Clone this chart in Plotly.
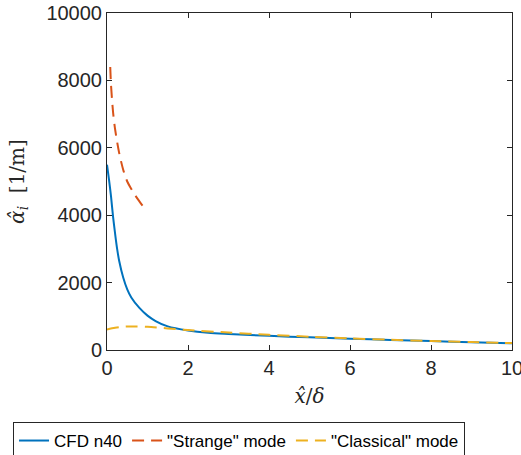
import plotly.graph_objects as go

cfd_x = [0, 0.05, 0.1, 0.15, 0.2, 0.25, 0.3, 0.4, 0.5, 0.6, 0.8, 1.0, 1.2, 1.5, 2.0, 2.5, 3.0, 4.0, 5.0, 6.0, 7.0, 8.0, 9.0, 10.0]
cfd_y = [5500, 5050, 4550, 3950, 3450, 3000, 2650, 2150, 1800, 1560, 1250, 1020, 860, 700, 580, 510, 475, 420, 375, 335, 300, 265, 230, 200]

strange_x = [0.08, 0.1, 0.15, 0.2, 0.3, 0.4, 0.5, 0.6, 0.7, 0.8, 0.9]
strange_y = [8400, 7850, 7050, 6550, 5850, 5350, 5000, 4780, 4580, 4410, 4250]

classical_x = [0, 0.2, 0.4, 0.7, 1.0, 1.5, 2.0, 3.0, 4.0, 5.0, 6.0, 7.0, 8.0, 9.0, 10.0]
classical_y = [610, 660, 690, 700, 690, 640, 590, 520, 450, 395, 345, 305, 265, 235, 205]

x_ticks = [0, 2, 4, 6, 8, 10]
y_ticks = [0, 2000, 4000, 6000, 8000, 10000]

names = ["CFD n40", '"Strange" mode', '"Classical" mode']
colors = ["#0072BD", "#D95319", "#EDB120"]

fig = go.Figure()
fig.add_trace(go.Scatter(x=cfd_x, y=cfd_y, mode="lines", name=names[0],
                         line=dict(color=colors[0], width=2, shape="spline", smoothing=0.8)))
fig.add_trace(go.Scatter(x=strange_x, y=strange_y, mode="lines", name=names[1],
                         line=dict(color=colors[1], width=2, dash="12px,7px", shape="spline", smoothing=0.8)))
fig.add_trace(go.Scatter(x=classical_x, y=classical_y, mode="lines", name=names[2],
                         line=dict(color=colors[2], width=2, dash="12px,7px", shape="spline", smoothing=0.8)))

axis_common = dict(showgrid=False, zeroline=False, showline=True, mirror="ticks",
                   linecolor="#262626", linewidth=1, ticks="inside", ticklen=5,
                   tickcolor="#262626", automargin=False, ticklabeloverflow="allow",
                   tickfont=dict(family="Liberation Sans, Arial", size=20, color="#262626"))

fig.update_layout(
    width=521, height=455,
    margin=dict(l=107, r=9, t=13, b=105, autoexpand=False),
    paper_bgcolor="white", plot_bgcolor="white",
    xaxis=dict(range=[0, 10], tickvals=x_ticks, ticktext=[str(v) for v in x_ticks],
               title=dict(text="<i>x̂</i>/<i>δ</i>", font=dict(family="DejaVu Serif, serif", size=20, color="#262626"),
                          standoff=10),
               **axis_common),
    yaxis=dict(range=[0, 10000], tickvals=y_ticks, ticktext=[str(v) for v in y_ticks],
               title=dict(text="<i>α̂</i><sub><i>i</i></sub>  [1/m]", font=dict(family="DejaVu Serif, serif", size=20, color="#262626"),
                          standoff=16),
               **axis_common),
    legend=dict(orientation="h",
                x=-0.232, y=-0.2136, xanchor="left", yanchor="top",
                bordercolor="#262626", borderwidth=1, bgcolor="white",
                font=dict(family="Liberation Sans, Arial", size=17, color="#000000"),
                tracegroupgap=0),
    showlegend=True,
)

fig.write_html("out.html", config={"displayModeBar": False},
               post_script="document.body.style.margin='0';document.body.style.overflow='hidden';")
